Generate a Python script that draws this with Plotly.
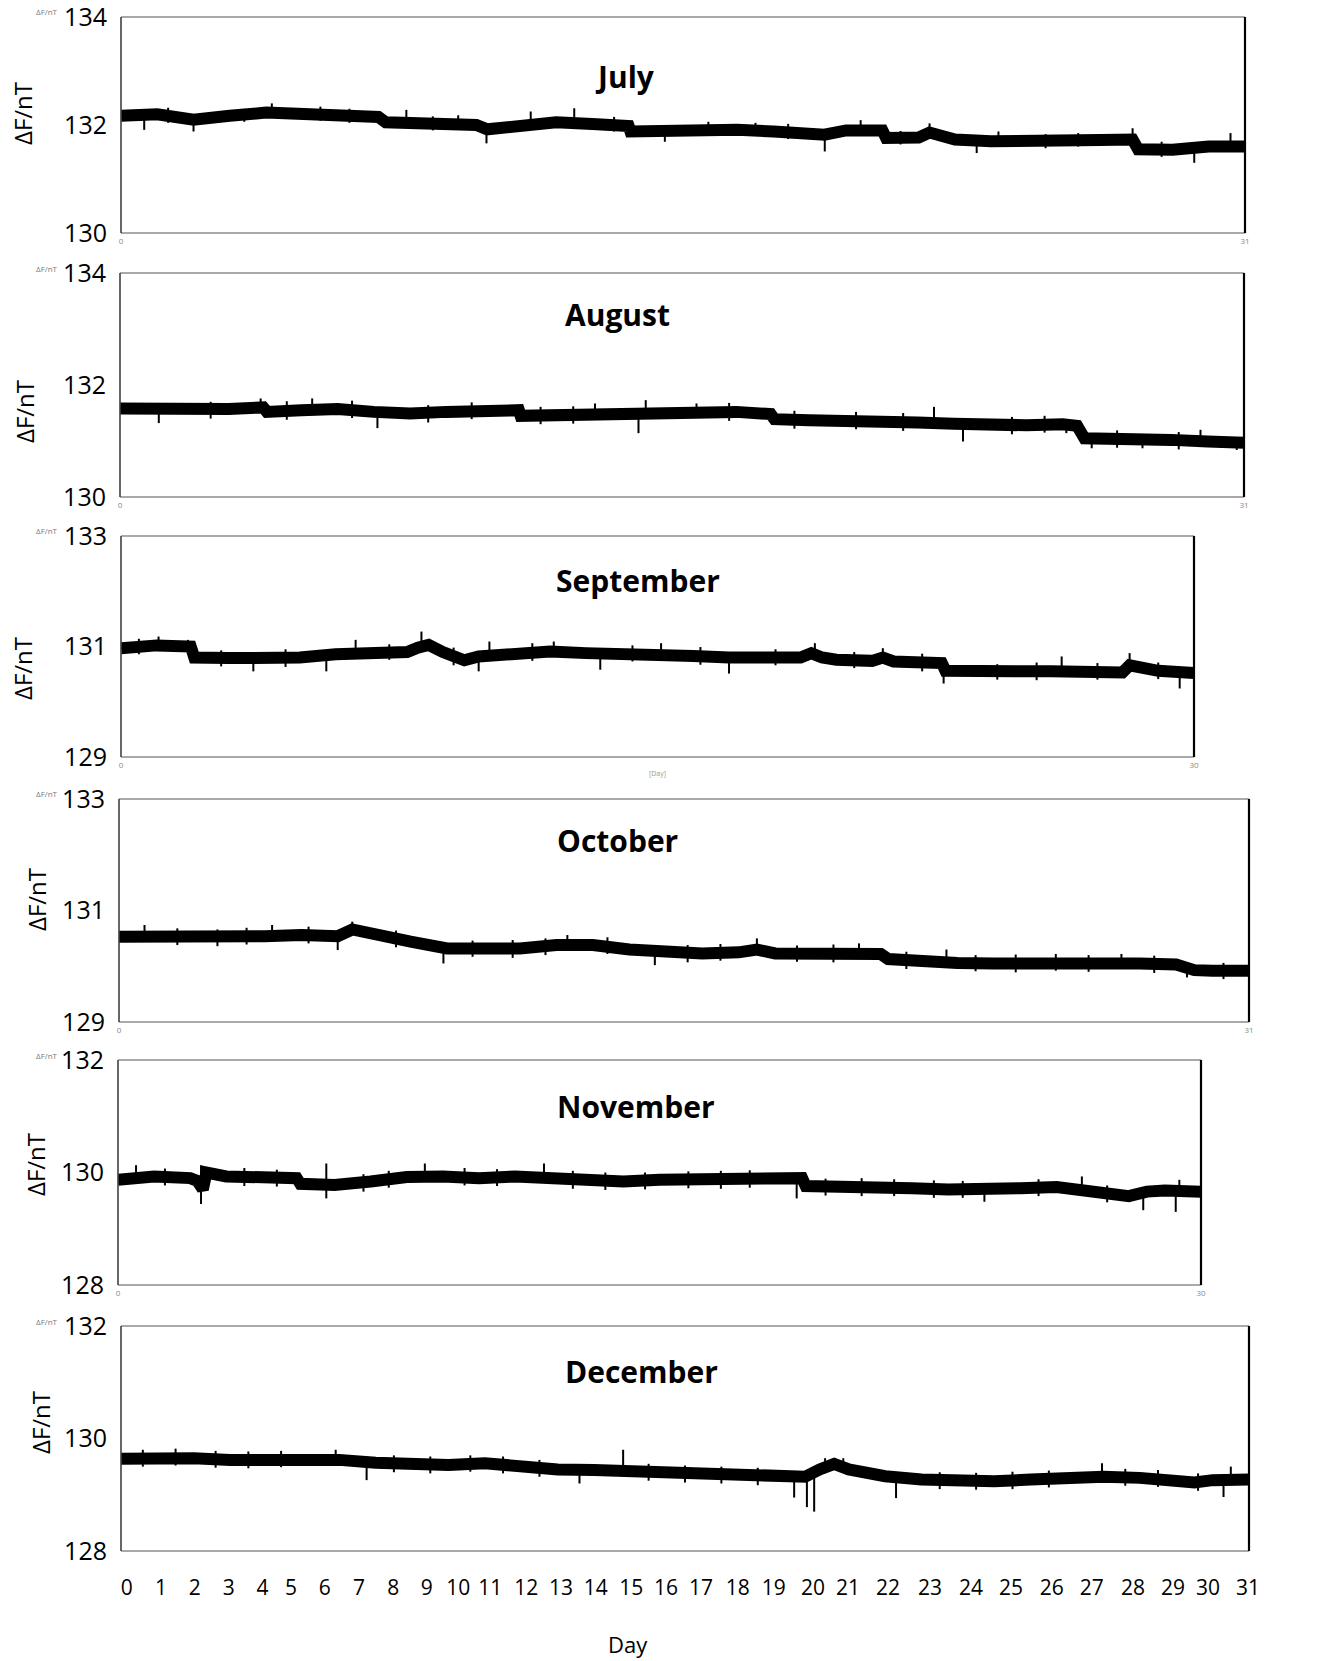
import plotly.graph_objects as go

W, H = 1319, 1661

# ---------------- data ----------------
# band centre of each month: day -> ΔF (nT)
jul_day = [0, 1, 2, 2.6, 3, 4, 5, 6, 7, 7.1, 7.3, 8, 9, 9.8, 10.1, 10.5, 11, 12, 13, 14, 14.05, 15, 16, 17, 18, 19,
           19.4, 20, 21, 21.1, 22, 22.3, 22.6, 23, 24, 25, 26, 27, 27.9, 28.05, 29, 30, 31]
jul_val = [132.17, 132.2, 132.1, 132.12, 132.17, 132.23, 132.22, 132.18, 132.17, 132.15, 132.05, 132.03, 132.05, 132.0,
           131.92, 131.95, 132.0, 132.05, 132.02, 131.98, 131.88, 131.9, 131.93, 131.91, 131.88, 131.85, 131.82, 131.9,
           131.9, 131.76, 131.77, 131.86, 131.78, 131.73, 131.7, 131.69, 131.7, 131.72, 131.73, 131.55, 131.54, 131.6, 131.6]
# noise spikes: day, lowest and highest value reached
jul_sd = [0.64, 2.0, 4.16, 7.87, 10.08, 11.3, 12.5, 15.0, 19.41, 20.4, 22.3, 23.6, 24.2, 27.9, 29.6, 30.6,
          1.3, 3.4, 5.5, 6.3, 8.6, 9.3, 13.6, 16.2, 17.5, 18.4, 21.5, 25.5, 26.4, 28.7]
jul_slo = [131.91, 131.88, 132.2, 132.05, 131.66, 132.0, 132.05, 131.69, 131.51, 131.9, 131.85, 131.48, 131.7, 131.72,
           131.30, 131.6, 132.04, 132.06, 132.08, 132.04, 131.9, 131.93, 131.88, 131.81, 131.8, 131.74, 131.64, 131.57,
           131.6, 131.41]
jul_shi = [132.17, 132.1, 132.40, 132.28, 131.95, 132.25, 132.31, 131.9, 131.85, 132.09, 132.03, 131.72, 131.88, 131.94,
           131.54, 131.85, 132.32, 132.3, 132.34, 132.3, 132.16, 132.18, 132.15, 132.06, 132.04, 132.02, 131.89, 131.83,
           131.85, 131.69]

aug_day = [0, 1, 2, 3, 3.95, 4.05, 5, 6, 7, 8, 9, 10, 11, 11.05, 12, 13, 14, 15, 16, 17, 17.95, 18.05, 19, 20, 21, 22,
           23, 24, 25, 26, 26.4, 26.6, 27, 28, 29, 30, 31]
aug_val = [131.58, 131.58, 131.53, 131.57, 131.6, 131.52, 131.55, 131.57, 131.52, 131.49, 131.52, 131.54, 131.55,
           131.45, 131.46, 131.48, 131.5, 131.52, 131.54, 131.52, 131.48, 131.39, 131.37, 131.37, 131.36, 131.33,
           131.31, 131.28, 131.28, 131.3, 131.27, 131.05, 131.05, 131.02, 131.02, 130.99, 130.97]
aug_sd = [1.07, 3.88, 5.3, 7.1, 13.1, 14.3, 14.5, 15.9, 22.45, 23.25, 26.1, 26.8, 28.2, 29.8, 30.8,
          2.5, 4.6, 6.4, 8.5, 9.7, 11.6, 12.5, 16.8, 18.6, 20.3, 21.6, 24.6, 25.5, 27.5, 29.2]
aug_slo = [131.32, 131.58, 131.55, 131.23, 131.48, 131.14, 131.5, 131.54, 131.32, 130.99, 131.14, 130.87, 130.87,
           130.99, 130.84, 131.4, 131.38, 131.41, 131.33, 131.39, 131.3, 131.31, 131.36, 131.22, 131.21, 131.18,
           131.12, 131.15, 130.88, 130.85]
aug_shi = [131.58, 131.76, 131.76, 131.52, 131.67, 131.5, 131.73, 131.67, 131.61, 131.29, 131.3, 131.05, 131.02, 131.2,
           130.97, 131.7, 131.71, 131.72, 131.64, 131.69, 131.61, 131.62, 131.68, 131.54, 131.52, 131.5, 131.43,
           131.45, 131.19, 131.16]

sep_day = [0, 1, 1.95, 2.05, 3, 4, 5, 6, 7, 8, 8.3, 8.6, 9, 9.6, 10, 11, 12, 13, 14, 15, 16, 17, 18, 19, 19.3, 19.6,
           20, 21, 21.3, 21.6, 22, 22.95, 23.05, 24, 25, 26, 27, 28, 28.2, 28.5, 29, 30]
sep_val = [130.97, 131.02, 131.0, 130.8, 130.79, 130.77, 130.8, 130.86, 130.9, 130.9, 130.98, 131.03, 130.9, 130.75,
           130.82, 130.88, 130.91, 130.88, 130.88, 130.87, 130.83, 130.8, 130.82, 130.8, 130.88, 130.8, 130.76, 130.74,
           130.8, 130.73, 130.72, 130.7, 130.56, 130.53, 130.55, 130.55, 130.55, 130.53, 130.66, 130.62, 130.56, 130.52]
sep_sd = [1.05, 1.87, 3.7, 5.74, 6.56, 8.4, 10.0, 10.3, 12.1, 13.4, 15.1, 17.0, 19.4, 21.3, 23.0, 26.3, 28.2, 29.6,
          0.5, 2.8, 4.6, 7.5, 9.3, 11.5, 14.3, 16.2, 18.3, 20.5, 22.4, 24.5, 25.6, 27.3, 29.0]
sep_slo = [130.97, 131.0, 130.55, 130.55, 130.86, 130.95, 130.55, 130.82, 130.9, 130.58, 130.87, 130.51, 130.8, 130.74,
           130.33, 130.55, 130.55, 130.24, 130.86, 130.64, 130.63, 130.76, 130.66, 130.74, 130.73, 130.67, 130.66,
           130.61, 130.55, 130.4, 130.39, 130.4, 130.41]
sep_shi = [131.18, 131.12, 130.79, 130.79, 131.12, 131.27, 130.82, 131.09, 131.09, 130.88, 131.06, 130.8, 131.06, 130.97,
           130.7, 130.82, 130.88, 130.56, 131.14, 130.93, 130.95, 131.04, 130.98, 131.06, 131.02, 130.99, 130.95,
           130.9, 130.87, 130.68, 130.71, 130.7, 130.71]

oct_day = [0, 1, 2, 3, 4, 5, 6, 6.4, 6.8, 7, 8, 9, 10, 11, 12, 13, 14, 15, 16, 17, 17.5, 18, 19, 20, 20.9, 21.1, 22,
           23, 24, 25, 26, 27, 28, 29, 29.5, 30, 31]
oct_val = [130.53, 130.53, 130.5, 130.53, 130.54, 130.56, 130.54, 130.66, 130.6, 130.55, 130.44, 130.32, 130.3, 130.32,
           130.38, 130.38, 130.3, 130.24, 130.23, 130.25, 130.3, 130.23, 130.22, 130.25, 130.22, 130.13, 130.08,
           130.06, 130.05, 130.06, 130.05, 130.07, 130.05, 130.03, 129.93, 129.92, 129.92]
oct_sd = [0.7, 4.2, 6.0, 6.4, 8.9, 12.3, 14.7, 17.5, 20.3, 22.7, 27.5, 29.3,
          1.6, 2.7, 3.5, 5.2, 7.6, 9.7, 10.8, 11.7, 13.4, 15.6, 16.5, 18.6, 19.6, 21.6, 23.5, 24.6, 25.7, 26.6, 28.4, 30.3]
oct_slo = [130.53, 130.54, 130.29, 130.6, 130.05, 130.38, 130.02, 130.25, 130.24, 130.06, 130.05, 129.8,
           130.38, 130.36, 130.39, 130.41, 130.34, 130.17, 130.15, 130.2, 130.22, 130.07, 130.1, 130.08, 130.07,
           129.95, 129.91, 129.89, 129.92, 129.9, 129.88, 129.77]
oct_shi = [130.74, 130.74, 130.54, 130.8, 130.4, 130.56, 130.3, 130.5, 130.41, 130.3, 130.22, 130.02,
           130.68, 130.66, 130.69, 130.71, 130.64, 130.46, 130.47, 130.5, 130.52, 130.38, 130.4, 130.37, 130.39,
           130.26, 130.2, 130.21, 130.22, 130.2, 130.19, 130.06]

nov_day = [0, 1, 2, 2.2, 2.35, 2.45, 3, 4, 4.95, 5.05, 6, 7, 8, 9, 10, 11, 12, 13, 14, 15, 16, 17, 18, 18.95, 19.05,
           20, 21, 22, 23, 24, 25, 26, 27, 28, 28.5, 29, 30]
nov_val = [129.87, 129.93, 129.9, 129.85, 129.7, 130.0, 129.93, 129.9, 129.9, 129.8, 129.78, 129.84, 129.92, 129.93,
           129.9, 129.93, 129.89, 129.84, 129.84, 129.87, 129.87, 129.87, 129.9, 129.9, 129.76, 129.73, 129.75,
           129.72, 129.7, 129.69, 129.72, 129.74, 129.64, 129.58, 129.66, 129.68, 129.66]
nov_sd = [0.5, 2.3, 5.77, 8.5, 11.8, 18.8, 24.0, 26.7, 28.4, 29.3, 29.4,
          1.3, 3.5, 4.4, 6.8, 7.5, 9.6, 10.5, 12.6, 13.5, 14.6, 15.8, 16.7, 17.5, 19.6, 20.6, 21.5, 22.6, 23.4, 25.5, 27.4]
nov_slo = [129.87, 129.44, 129.54, 129.92, 129.89, 129.54, 129.48, 129.74, 129.33, 129.3, 129.66,
           129.77, 129.76, 129.75, 129.66, 129.73, 129.77, 129.76, 129.71, 129.69, 129.7, 129.72, 129.71, 129.73,
           129.59, 129.58, 129.58, 129.55, 129.55, 129.58, 129.47]
nov_shi = [130.13, 130.13, 130.16, 130.16, 130.16, 129.9, 129.69, 129.93, 129.58, 129.68, 129.87,
           130.07, 130.08, 130.05, 129.97, 130.03, 130.08, 130.06, 130.03, 130.0, 130.0, 130.02, 130.03, 130.04,
           129.89, 129.9, 129.88, 129.86, 129.85, 129.88, 129.77]

dec_day = [0, 1, 2, 3, 4, 5, 6, 7, 8, 9, 10, 11, 12, 13, 14, 15, 16, 17, 18, 18.8, 19.2, 19.6, 20, 20.5, 21, 22, 23,
           24, 25, 26, 27, 28, 29, 29.5, 30, 31]
dec_val = [129.64, 129.67, 129.65, 129.62, 129.62, 129.64, 129.62, 129.57, 129.54, 129.53, 129.56, 129.5, 129.45,
           129.44, 129.42, 129.38, 129.35, 129.33, 129.3, 129.32, 129.45, 129.55, 129.45, 129.38, 129.33, 129.27,
           129.24, 129.24, 129.27, 129.3, 129.32, 129.3, 129.27, 129.22, 129.26, 129.27]
dec_sd = [5.9, 6.75, 12.6, 13.8, 18.5, 18.85, 19.05, 19.35, 19.85, 21.3, 26.96, 30.3, 30.5,
          0.6, 1.5, 2.6, 3.5, 4.4, 7.5, 8.5, 9.6, 10.5, 11.5, 14.5, 15.5, 16.5, 17.5, 22.5, 23.5, 24.5, 25.5, 27.6,
          28.5, 29.6]
dec_slo = [129.62, 129.26, 129.2, 129.42, 128.95, 128.78, 128.7, 129.45, 129.45, 128.94, 129.32, 128.96, 129.26,
           129.5, 129.52, 129.48, 129.47, 129.49, 129.4, 129.38, 129.41, 129.38, 129.32, 129.25, 129.22, 129.2,
           129.17, 129.1, 129.09, 129.1, 129.13, 129.16, 129.14, 129.07]
dec_shi = [129.8, 129.62, 129.45, 129.8, 129.3, 129.35, 129.45, 129.65, 129.65, 129.33, 129.56, 129.26, 129.5,
           129.8, 129.82, 129.78, 129.77, 129.78, 129.7, 129.68, 129.7, 129.68, 129.62, 129.55, 129.52, 129.5,
           129.48, 129.4, 129.39, 129.41, 129.43, 129.46, 129.44, 129.38]

# x tick labels of the bottom panel and where they sit (in day units)
day_labels = [str(i) for i in range(32)]
day_label_pos = [0.16, 1.10, 2.03, 2.96, 3.89, 4.67, 5.60, 6.54, 7.48, 8.40, 9.27, 10.15, 11.14, 12.09, 13.05,
                 14.02, 14.98, 15.94, 16.95, 17.94, 19.02, 19.98, 21.08, 22.23, 23.36, 24.46, 25.58, 26.68,
                 27.81, 28.91, 29.87, 30.97]

months = ["July", "August", "September", "October", "November", "December"]
month_days = [31, 31, 30, 31, 30, 31]
y_ranges = [[130, 134], [130, 134], [129, 133], [129, 133], [128, 132], [128, 132]]
series = [(jul_day, jul_val, jul_sd, jul_slo, jul_shi),
          (aug_day, aug_val, aug_sd, aug_slo, aug_shi),
          (sep_day, sep_val, sep_sd, sep_slo, sep_shi),
          (oct_day, oct_val, oct_sd, oct_slo, oct_shi),
          (nov_day, nov_val, nov_sd, nov_slo, nov_shi),
          (dec_day, dec_val, dec_sd, dec_slo, dec_shi)]

# ---------------- layout geometry (pixels) ----------------
boxes = [(121, 1245, 17, 233), (120, 1244, 273, 497), (121, 1194, 536, 757),
         (119, 1249, 799, 1022), (118, 1201, 1060, 1285), (121, 1249, 1326, 1551)]
title_pos = [(625, 76), (617, 314), (638, 580), (617, 840), (636, 1106), (641, 1371)]
ylab_pos = [(23, 114), (25, 412), (23, 669), (37, 900), (35, 1165), (40, 1423)]

FONT = "Open Sans, Noto Sans, sans-serif"


def px(x):
    return x / W


def py(y):
    return 1 - y / H


fig = go.Figure()
layout = dict(width=W, height=H, margin=dict(l=0, r=0, t=0, b=0, autoexpand=False), showlegend=False,
              paper_bgcolor="white", plot_bgcolor="white", font=dict(family=FONT, color="black"))
shapes, annotations = [], []

for i in range(6):
    k = "" if i == 0 else str(i + 1)
    xa, ya = "x" + k, "y" + k
    days, vals, sd, slo, shi = series[i]
    x0, x1, y0, y1 = boxes[i]
    n = month_days[i]

    fig.add_trace(go.Scatter(x=days, y=vals, mode="lines", xaxis=xa, yaxis=ya,
                             line=dict(color="black", width=12), hoverinfo="skip"))
    sx, sy = [], []
    for d, lo, hi in zip(sd, slo, shi):
        sx += [d, d, None]
        sy += [lo, hi, None]
    fig.add_trace(go.Scatter(x=sx, y=sy, mode="lines", xaxis=xa, yaxis=ya,
                             line=dict(color="black", width=2), hoverinfo="skip"))

    if i < 5:
        xtick = dict(tickvals=[0, n], ticktext=["0", str(n)], tickfont=dict(size=8, color="#888888"),
                     ticklabelstandoff=2)
    else:
        xtick = dict(tickvals=day_label_pos, ticktext=day_labels, tickfont=dict(size=21, color="black"),
                     ticklabelstandoff=22, tickangle=0)
    layout["xaxis" + k] = dict(domain=[px(x0), px(x1)], range=[0, n], anchor=ya, showgrid=False, automargin=False,
                               zeroline=False, showline=False, ticks="", fixedrange=True,
                               ticklabeloverflow="allow", **xtick)
    lo_r = y_ranges[i][0]
    layout["yaxis" + k] = dict(domain=[py(y1), py(y0)], range=y_ranges[i], anchor=xa, showgrid=False,
                               automargin=False, zeroline=False, showline=False, ticks="",
                               tickvals=[lo_r, lo_r + 2, lo_r + 4], ticklabeloverflow="allow",
                               tickfont=dict(size=25, color="black"), ticklabelstandoff=13, fixedrange=True)

    # frame
    shapes += [
        dict(type="line", xref="paper", yref="paper", x0=px(x0), x1=px(x1), y0=py(y0), y1=py(y0),
             line=dict(color="#8c8c8c", width=1.3)),
        dict(type="line", xref="paper", yref="paper", x0=px(x0), x1=px(x1), y0=py(y1), y1=py(y1),
             line=dict(color="#8c8c8c", width=1.6)),
        dict(type="line", xref="paper", yref="paper", x0=px(x0), x1=px(x0), y0=py(y0), y1=py(y1),
             line=dict(color="#404040", width=1.6)),
        dict(type="line", xref="paper", yref="paper", x0=px(x1), x1=px(x1), y0=py(y0), y1=py(y1),
             line=dict(color="black", width=2.2)),
    ]
    tx, ty = title_pos[i]
    annotations.append(dict(text="<b>%s</b>" % months[i], x=px(tx), y=py(ty), xref="paper", yref="paper",
                            showarrow=False, xanchor="center", yanchor="middle",
                            font=dict(size=30, color="black", family=FONT)))
    lx, ly = ylab_pos[i]
    annotations.append(dict(text="ΔF/nT", x=px(lx), y=py(ly), xref="paper", yref="paper", textangle=-90,
                            showarrow=False, xanchor="center", yanchor="middle",
                            font=dict(size=24, color="black", family=FONT)))
    annotations.append(dict(text="ΔF/nT", x=px(47), y=py(max(y0 - 5, 6)), xref="paper", yref="paper",
                            showarrow=False, xanchor="center", yanchor="middle",
                            font=dict(size=8, color="#777777", family=FONT)))

annotations.append(dict(text="Day", x=px(628), y=py(1644), xref="paper", yref="paper", showarrow=False,
                        xanchor="center", yanchor="middle", font=dict(size=22, color="black", family=FONT)))
annotations.append(dict(text="[Day]", x=px(657), y=py(773), xref="paper", yref="paper", showarrow=False,
                        xanchor="center", yanchor="middle", font=dict(size=7, color="#999999", family=FONT)))

layout["shapes"] = shapes
layout["annotations"] = annotations
fig.update_layout(**layout)

fig.write_html("out.html", config={"displayModeBar": False, "staticPlot": True},
               post_script="document.body.style.margin='0';document.body.style.overflow='hidden';")
